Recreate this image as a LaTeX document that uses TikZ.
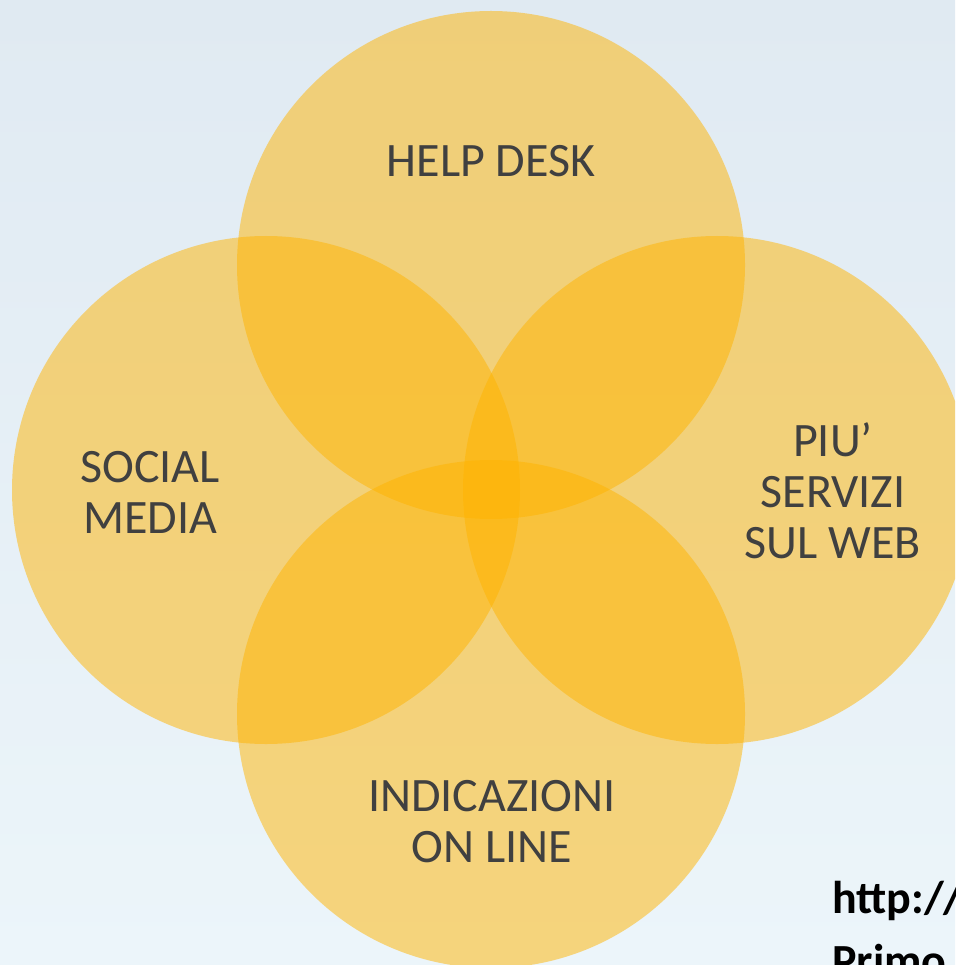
\documentclass[tikz,border=0pt]{standalone}
\usepackage{fontspec}
\setmainfont{Carlito}
\usepackage{tikz}
\definecolor{bgtop}{RGB}{224,234,242}
\definecolor{bgbottom}{RGB}{236,245,250}
\definecolor{petal}{RGB}{255,180,0}
\definecolor{labeltext}{RGB}{64,64,64}
\tikzset{
     petal/.style={circle,fill=petal,fill opacity=0.5,minimum size=508pt,inner sep=0pt},
     label/.style={align=center,text=labeltext,font=\fontsize{48}{51}\selectfont},
     link/.style={align=left,text=black,font=\bfseries\fontsize{46}{63}\selectfont,anchor=base west,inner sep=0pt}
     }
\usetikzlibrary{positioning}

\begin{document}
\begin{tikzpicture}[x=1pt,y=-1pt]
                    \useasboundingbox (0,0) rectangle (955,965);
                    \clip (0,0) rectangle (955,965);
                    \shade[top color=bgtop,bottom color=bgbottom] (0,0) rectangle (955,965);
                    % Place circles
                    \node [petal] (top) at (491,265) {};
                    \node [petal] (left) at (266,490) {};
                    \node [petal] (right) at (717,490) {};
                    \node [petal] (bottom) at (491,714) {};
                    % Place labels
                    \node [label] (helpdesk) at (491,161) {HELP DESK};
                    \node [label] (social) at (150,492) {SOCIAL\\MEDIA};
                    \node [label] (servizi) at (833,491) {PIU’\\SERVIZI\\SUL WEB};
                    \node [label] (indicazioni) at (492,822) {INDICAZIONI\\ON LINE};
                    % anchor is the last line, so Primo sits below the edge
                    \node [link] (url) at (832,976) {http://\\Primo};
                \end{tikzpicture}
\end{document}
